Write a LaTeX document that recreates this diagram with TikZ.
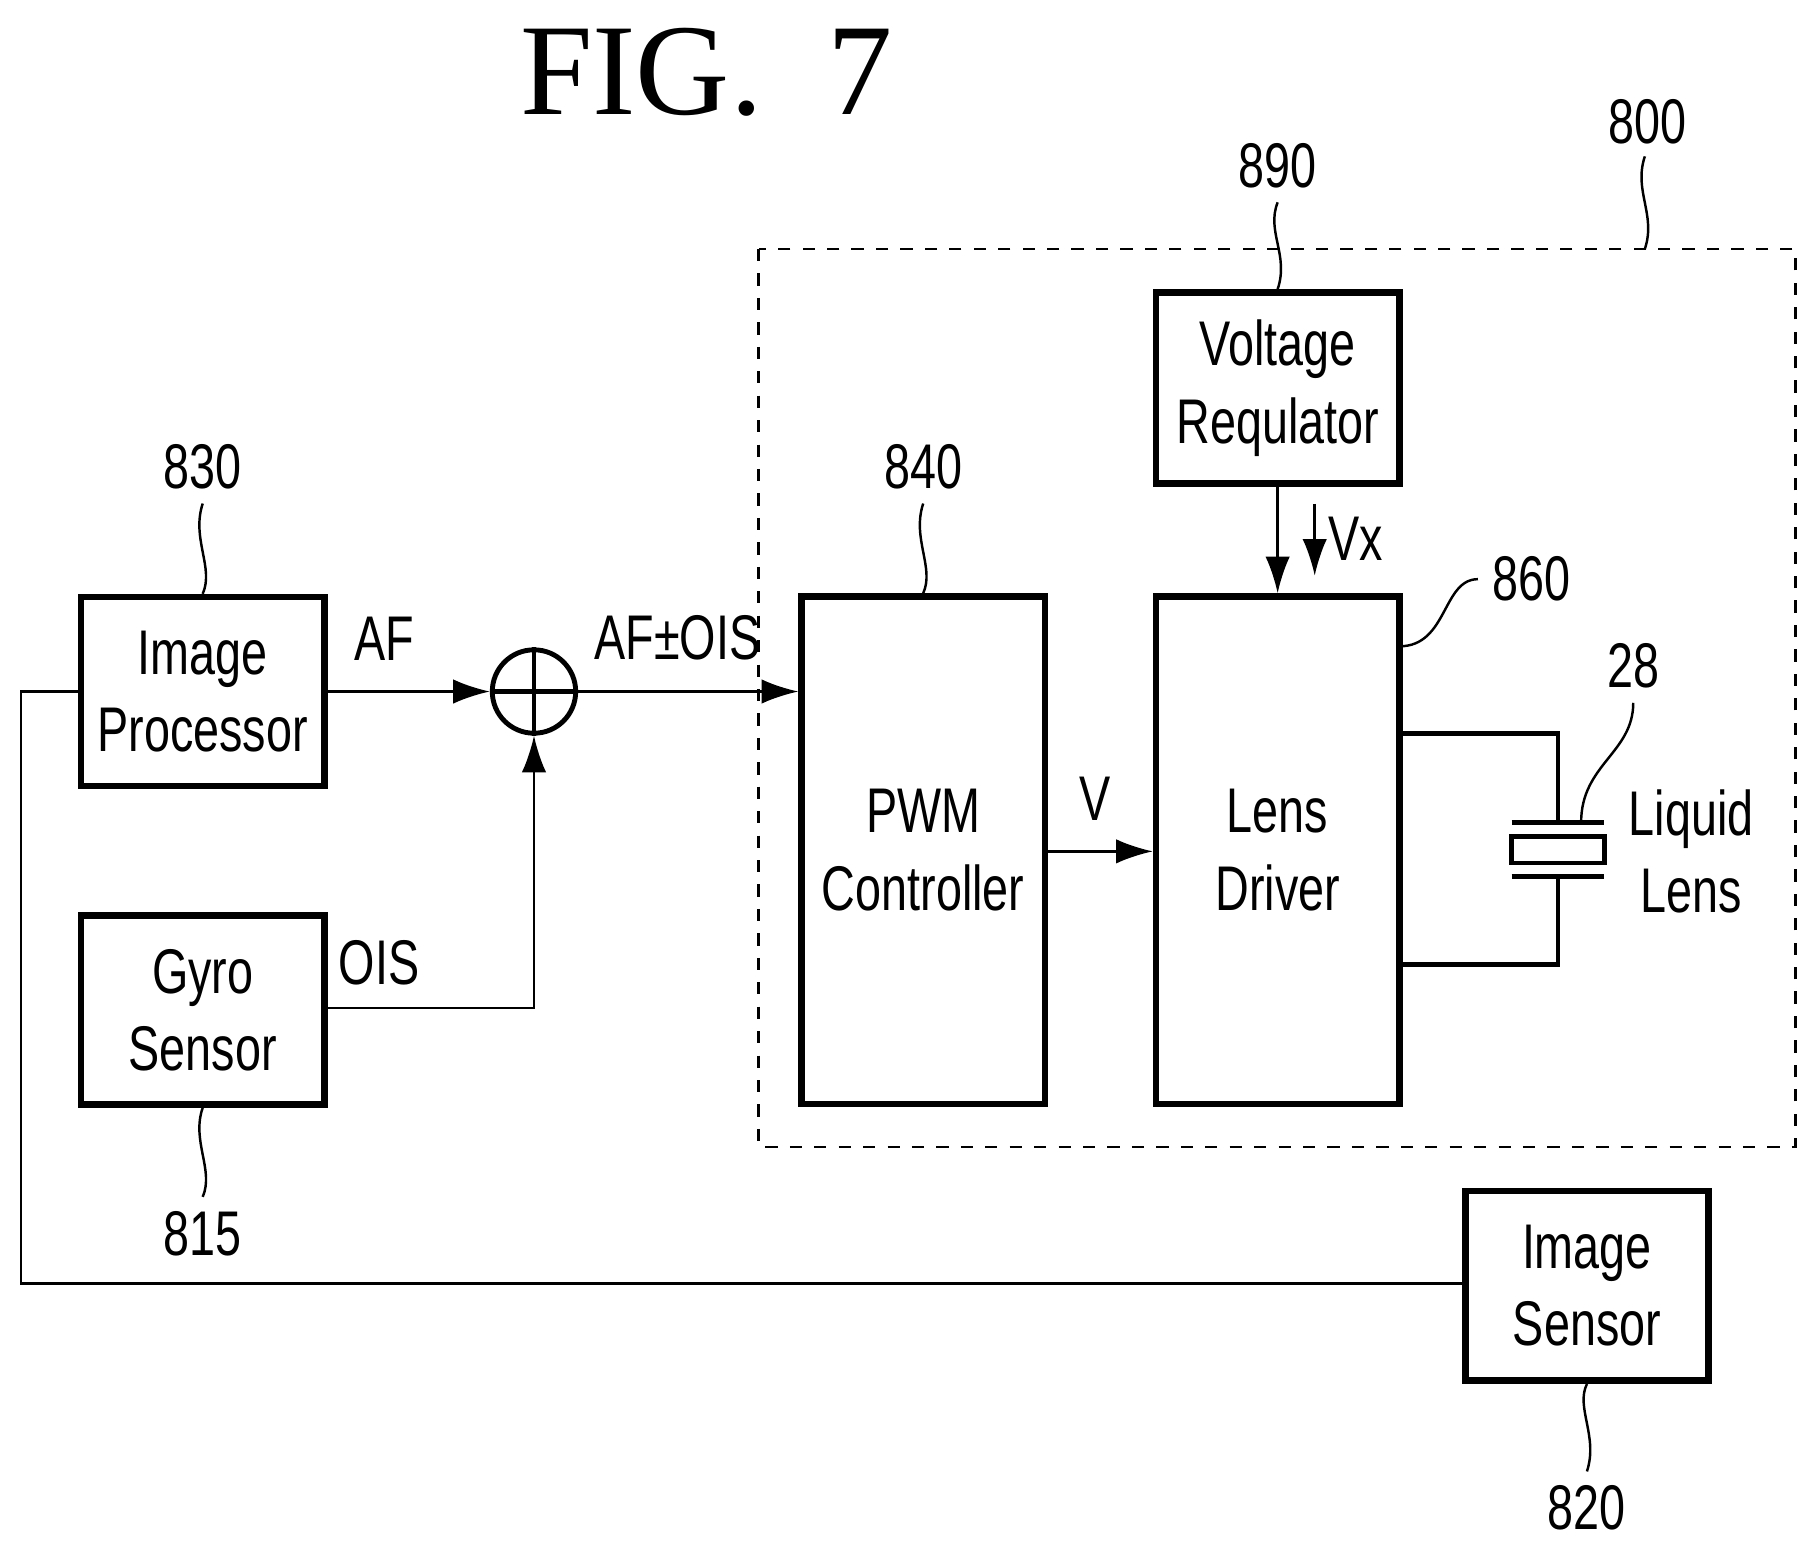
\documentclass[tikz,border=0pt]{standalone}
\usepackage{fontspec}
\setmainfont{Liberation Sans}[FakeStretch=0.74]
\newfontfamily\titlefont{Liberation Serif}
\usetikzlibrary{arrows.meta}
\begin{document}
\begin{tikzpicture}[x=0.01cm,y=-0.01cm,
  box/.style={draw,line width=1.6pt,minimum width=210*0.01cm,align=center,font=\fontsize{15.5}{19}\selectfont,inner sep=0pt},
  lbl/.style={font=\fontsize{15.5}{19}\selectfont},
  ref/.style={font=\fontsize{15.5}{19}\selectfont},
  arr/.style={-{Latex[length=9pt,width=6pt]},line width=0.6pt},
  ln/.style={line width=0.6pt}]
\useasboundingbox (0,0) rectangle (1560,1337);
\node[font=\titlefont\fontsize{32}{40}\selectfont] (t) at (610,62) {FIG.\ \ 7};
\draw[dashed,line width=0.6pt] (655,215) rectangle (1550,990);
\node[box,minimum height=165*0.01cm] (vr) at (1103,335) {Voltage\\Requlator};
\node[box,minimum height=163*0.01cm] (ip) at (175,597) {Image\\Processor};
\node[box,minimum height=163*0.01cm] (gs) at (175,872) {Gyro\\Sensor};
\node[box,minimum height=438*0.01cm] (pwm) at (797,734) {PWM\\Controller};
\node[box,minimum height=438*0.01cm] (ld) at (1103,734) {Lens\\Driver};
\node[box,minimum height=164*0.01cm] (is) at (1370,1110) {Image\\Sensor};
\node[draw,circle,line width=1.2pt,minimum size=72*0.01cm,inner sep=0pt] (sum) at (461,597) {};
\draw[line width=1.2pt] (sum.north) -- (sum.south) (sum.west) -- (sum.east);
% refs
\node[ref] (r800) at (1422,105) {800};
\node[ref] (r890) at (1103,143) {890};
\node[ref] (r830) at (175,403) {830};
\node[ref] (r840) at (797,403) {840};
\node[ref] (r860) at (1322,500) {860};
\node[ref] (r28) at (1410,575) {28};
\node[ref] (r815) at (175,1065) {815};
\node[ref] (r820) at (1370,1302) {820};
\draw[ln] (1420,135) .. controls (1410,165) and (1430,185) .. (1420,215);
\draw[ln] (r890.south) .. controls (1093,200) and (1113,220) .. (vr.north);
\draw[ln] (r830.south) .. controls (165,465) and (185,490) .. (ip.north);
\draw[ln] (r840.south) .. controls (787,465) and (807,490) .. (pwm.north);
\draw[ln] (r815.north) .. controls (185,1010) and (165,985) .. (gs.south);
\draw[ln] (r820.north) .. controls (1380,1240) and (1360,1215) .. (is.south);
\draw[ln] (1208,558) .. controls (1250,558) and (1245,500) .. (r860.west);
\draw[ln] (r28.south) .. controls (1410,650) and (1365,660) .. (1365,710);
% connections
\draw[arr] (ip.east |- 0,597) -- node[lbl,above,pos=0.35,yshift=4pt]{AF} (sum.west);
\draw[arr] (gs.east |- 0,870) -- node[lbl,above,pos=0.25,yshift=2pt]{OIS} (461,870) -- (sum.south);
\draw[arr] (sum.east) -- node[lbl,above,pos=0.45,yshift=4pt]{AF±OIS} (pwm.west |- 0,597);
\draw[arr] (pwm.east |- 0,735) -- node[lbl,above,pos=0.45,yshift=4pt]{V} (ld.west |- 0,735);
\draw[arr] (vr.south) -- (ld.north);
\coordinate (vx1) at (1135,435); \coordinate (vx2) at (1135,497);
\draw[arr] (vx1) -- (vx2);
\node[lbl] (vx) at (1170,465) {Vx};
\draw[ln] (is.west |- 0,1108) -- (18,1108) -- (18,597) -- (ip.west |- 0,597);
% liquid lens
\draw[line width=1.2pt] (ld.east |- 0,633) -- (1345,633) -- (1345,710);
\draw[line width=1.2pt] (1305,710) -- (1385,710);
\draw[line width=1.2pt] (1305,722) rectangle (1385,745);
\draw[line width=1.2pt] (1305,757) -- (1385,757);
\draw[line width=1.2pt] (1345,757) -- (1345,833) -- (ld.east |- 0,833);
\node[lbl,align=center] (ll) at (1460,735) {Liquid\\Lens};
\end{tikzpicture}
\end{document}
